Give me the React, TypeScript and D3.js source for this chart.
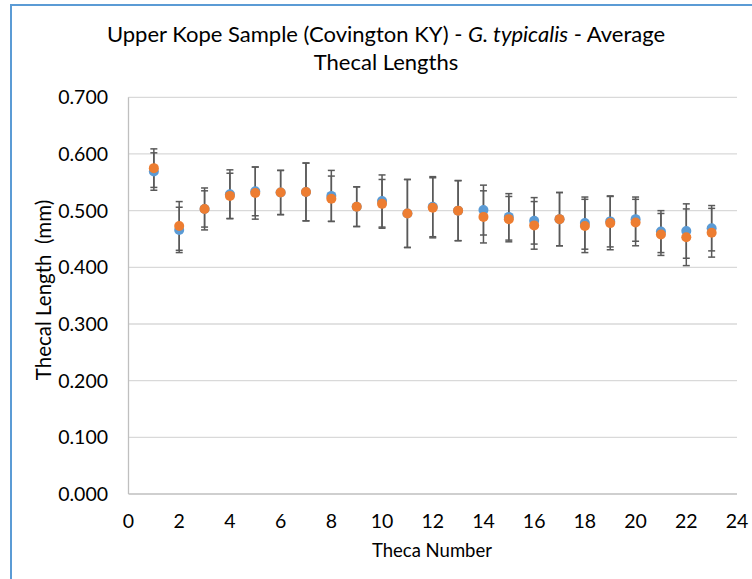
import * as d3 from "d3";

const thecaNumbers = [1, 2, 3, 4, 5, 6, 7, 8, 9, 10, 11, 12, 13, 14, 15, 16, 17, 18, 19, 20, 21, 22, 23];

const blueMeans = [0.569, 0.466, 0.503, 0.529, 0.534, 0.532, 0.533, 0.526, 0.507, 0.517, 0.495, 0.507, 0.500, 0.501, 0.489, 0.482, 0.485, 0.478, 0.481, 0.485, 0.463, 0.464, 0.469];
const blueErrors = [0.033, 0.040, 0.037, 0.043, 0.043, 0.039, 0.051, 0.045, 0.035, 0.046, 0.060, 0.053, 0.053, 0.044, 0.041, 0.041, 0.047, 0.046, 0.045, 0.039, 0.037, 0.048, 0.040];

const orangeMeans = [0.575, 0.473, 0.503, 0.526, 0.531, 0.532, 0.533, 0.521, 0.507, 0.512, 0.495, 0.505, 0.500, 0.489, 0.485, 0.474, 0.485, 0.473, 0.478, 0.479, 0.458, 0.453, 0.461];
const orangeErrors = [0.034, 0.043, 0.032, 0.040, 0.046, 0.039, 0.051, 0.040, 0.035, 0.043, 0.060, 0.053, 0.053, 0.046, 0.040, 0.042, 0.047, 0.047, 0.047, 0.041, 0.037, 0.050, 0.043];

const yTicks = [0, 0.1, 0.2, 0.3, 0.4, 0.5, 0.6, 0.7];
const xTicks = [0, 2, 4, 6, 8, 10, 12, 14, 16, 18, 20, 22, 24];

const series = [
  { name: "blue", color: "#5b9bd5", means: blueMeans, errors: blueErrors },
  { name: "orange", color: "#ed7d31", means: orangeMeans, errors: orangeErrors },
];

const font = "Lato, 'Noto Sans', sans-serif";

export default function App() {
  const W = 752, H = 579;
  const x = d3.scaleLinear().domain([0, 24]).range([128.5, 737]);
  const y = d3.scaleLinear().domain([0, 0.7]).range([494, 97.3]);
  const cap = 3.5;

  return (
    <svg
      width={W}
      height={H}
      style={{ position: "absolute", left: 0, top: 0, background: "#fff" }}
    >
      {/* chart frame, cropped on right and bottom */}
      <line x1={11} x2={W} y1={5} y2={5} stroke="#5b9bd5" strokeWidth={2} />
      <line x1={11} x2={11} y1={4} y2={H} stroke="#5b9bd5" strokeWidth={2} />

      <text x={386} y={42} textAnchor="middle" fontFamily={font} fontSize={22} fill="#000">
        Upper Kope Sample (Covington KY) - <tspan fontStyle="italic">G. typicalis</tspan> - Average
      </text>
      <text x={386} y={70} textAnchor="middle" fontFamily={font} fontSize={22} fill="#000">
        Thecal Lengths
      </text>

      {/* gridlines */}
      {yTicks.slice(1).map((t) => (
        <line key={t} x1={x(0)} x2={x(24)} y1={y(t)} y2={y(t)} stroke="#d9d9d9" strokeWidth={1.3} />
      ))}
      {/* axes */}
      <line x1={x(0)} x2={x(24)} y1={y(0)} y2={y(0)} stroke="#bfbfbf" strokeWidth={1.3} />
      <line x1={x(0)} x2={x(0)} y1={y(0)} y2={y(0.7)} stroke="#bfbfbf" strokeWidth={1.3} />

      {yTicks.map((t) => (
        <text key={t} x={108} y={y(t) + 7} textAnchor="end" fontFamily={font} fontSize={19.5} fill="#000">
          {d3.format(".3f")(t)}
        </text>
      ))}
      {xTicks.map((t) => (
        <text key={t} x={x(t)} y={528} textAnchor="middle" fontFamily={font} fontSize={19.5} fill="#000">
          {t}
        </text>
      ))}

      <text x={432} y={557} textAnchor="middle" fontFamily={font} fontSize={18.5} fill="#000">
        Theca Number
      </text>
      <text
        transform={`translate(51,290) rotate(-90)`}
        textAnchor="middle"
        fontFamily={font}
        fontSize={20.5}
        fill="#000"
        style={{ whiteSpace: "pre" }}
      >
        {"Thecal Length  (mm)"}
      </text>

      {/* error bars */}
      {series.map((s) => (
        <g key={s.name + "-err"} stroke="#595959" strokeWidth={1.5}>
          {thecaNumbers.map((n, i) => {
            const cx = x(n);
            const hi = y(s.means[i] + s.errors[i]);
            const lo = y(s.means[i] - s.errors[i]);
            return (
              <g key={n}>
                <line x1={cx} x2={cx} y1={hi} y2={lo} />
                <line x1={cx - cap} x2={cx + cap} y1={hi} y2={hi} />
                <line x1={cx - cap} x2={cx + cap} y1={lo} y2={lo} />
              </g>
            );
          })}
        </g>
      ))}

      {/* markers */}
      {series.map((s) => (
        <g key={s.name}>
          {thecaNumbers.map((n, i) => (
            <circle key={n} cx={x(n)} cy={y(s.means[i])} r={5} fill={s.color} />
          ))}
        </g>
      ))}
    </svg>
  );
}
